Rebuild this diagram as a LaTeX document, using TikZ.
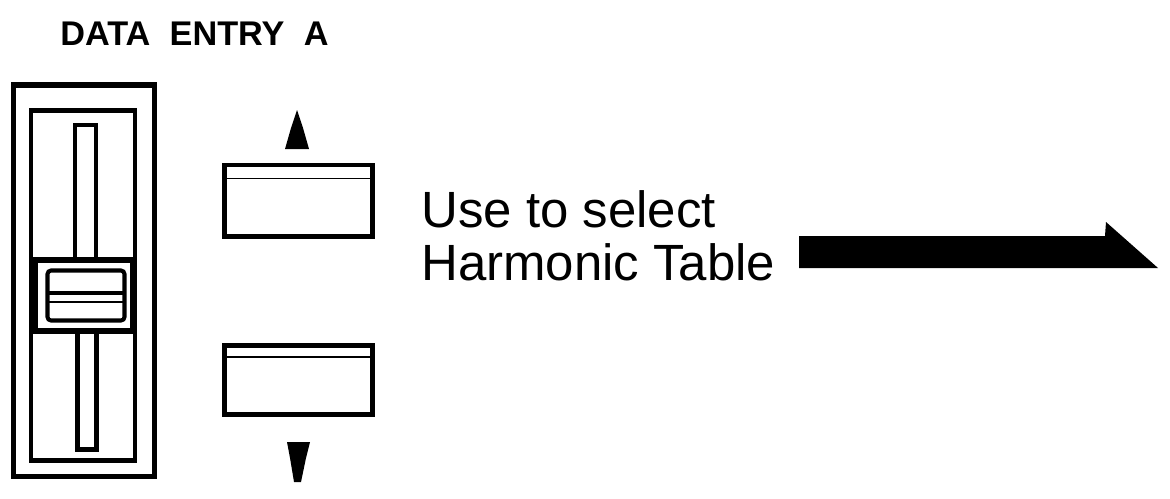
\documentclass[tikz,border=0pt]{standalone}
\usepackage{fontspec}
\setmainfont{Liberation Sans}
\begin{document}
\begin{tikzpicture}[x=0.02cm,y=-0.02cm,
  frameline/.style={draw=black,line width=3.4pt},
  midline/.style={draw=black,line width=2.3pt},
  thinline/.style={draw=black,line width=1.1pt},
  btnline/.style={draw=black,line width=2.8pt},
  lbl/.style={inner sep=0pt,anchor=base west,font=\fontsize{29}{31}\selectfont},
  ttl/.style={inner sep=0pt,anchor=base west,font=\bfseries\fontsize{19.5}{21}\selectfont}]
\useasboundingbox (0,0) rectangle (1170,498);
% title
\node[ttl] (title) at (60,45) {DATA\hspace{11pt}ENTRY\hspace{11pt}A};
% slider outer and inner frames
\draw[frameline] (13.5,85) rectangle (154.5,476.5);
\draw[midline] (31,110.5) rectangle (135,460.5);
% slots
\draw[midline] (96,258) -- (96,125) -- (75,125) -- (75,258);
\draw[midline] (77.5,333) -- (77.5,449.5) -- (96.5,449.5) -- (96.5,333);
% handle
\draw[line width=3.4pt] (35,260) rectangle (133,331);
\draw[midline,rounded corners=2pt] (47.5,270.5) rectangle (124.5,320.5);
\draw[line width=2.3pt] (47.5,293) -- (124.5,293);
\draw[thinline] (47.5,302) -- (124.5,302);
% buttons
\draw[btnline] (224.5,165) rectangle (372.5,236.5);
\draw[thinline] (224.5,178.5) -- (372.5,178.5);
\draw[btnline] (224.5,345.5) rectangle (372.5,414.5);
\draw[thinline] (224.5,357) -- (372.5,357);
% small arrows
\fill (297,110) -- (303,128) -- (309,149) -- (285,149) -- (291,128) -- cycle;
\fill (287,442) -- (310,442) -- (306,458) -- (301,482) -- (294,482) -- (290,458) -- cycle;
% label
\node[lbl] (t1) at (421,227) {Use to select};
\node[lbl] (t2) at (421,280) {Harmonic Table};
% big arrow
\fill (799,236) -- (1105,236) -- (1106,222) -- (1158,268) -- (799,268) -- cycle;
\end{tikzpicture}
\end{document}
